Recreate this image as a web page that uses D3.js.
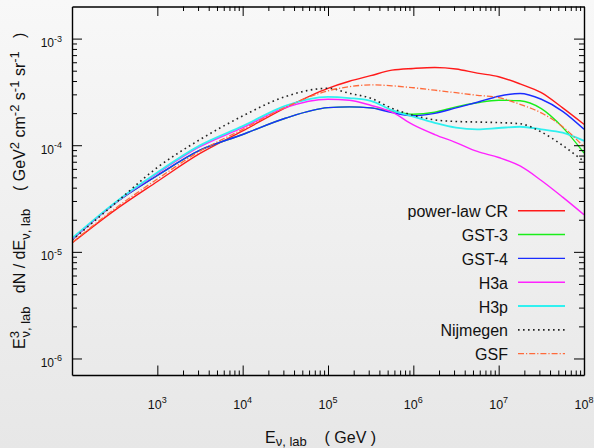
<!DOCTYPE html>
<html>
<head>
<meta charset="utf-8">
<title>Neutrino flux, E^3 dN/dE</title>
<script src="https://d3js.org/d3.v7.min.js"></script>
<style>
  body { margin: 0; padding: 0; }
  svg { display: block; font-family: "Liberation Sans", Arial, sans-serif; }
  text { white-space: pre; fill: #111; }
</style>
</head>
<body>
<div id="chart"></div>
<script>
// neutrino energy in the lab frame (GeV)
var energies = [1e2, 3.16e2, 1e3, 3.16e3, 1e4, 3.16e4, 1e5, 1.78e5, 3.16e5, 5.62e5, 1e6, 1.78e6, 3.16e6, 5.62e6, 1e7, 1.78e7, 3.16e7, 5.62e7, 1e8];

// E^3 dN/dE (GeV^2 cm^-2 s^-1 sr^-1), one list per cosmic-ray model
var powerLawCR = [1.21e-5, 2.45e-5, 4.57e-5, 8.37e-5, 1.36e-4, 2.24e-4, 3.42e-4, 3.98e-4, 4.49e-4, 5.06e-4, 5.25e-4, 5.36e-4, 5.19e-4, 4.74e-4, 4.39e-4, 3.76e-4, 3.11e-4, 2.24e-4, 1.57e-4];
var gst3 = [1.30e-5, 2.84e-5, 5.20e-5, 8.99e-5, 1.26e-4, 1.79e-4, 2.25e-4, 2.29e-4, 2.24e-4, 2.09e-4, 1.95e-4, 2.04e-4, 2.29e-4, 2.50e-4, 2.64e-4, 2.61e-4, 2.20e-4, 1.47e-4, 8.46e-5];
var gst4 = [1.30e-5, 2.84e-5, 5.20e-5, 8.99e-5, 1.26e-4, 1.79e-4, 2.25e-4, 2.29e-4, 2.24e-4, 2.02e-4, 1.89e-4, 1.99e-4, 2.24e-4, 2.53e-4, 2.88e-4, 3.06e-4, 2.70e-4, 2.08e-4, 1.41e-4];
var h3a = [1.31e-5, 2.84e-5, 5.43e-5, 9.68e-5, 1.46e-4, 2.25e-4, 2.70e-4, 2.64e-4, 2.37e-4, 2.04e-4, 1.55e-4, 1.26e-4, 1.06e-4, 8.74e-5, 7.67e-5, 6.39e-5, 4.67e-5, 3.26e-5, 2.23e-5];
var h3p = [1.34e-5, 2.88e-5, 5.55e-5, 9.96e-5, 1.51e-4, 2.34e-4, 2.84e-4, 2.77e-4, 2.61e-4, 2.13e-4, 1.85e-4, 1.62e-4, 1.46e-4, 1.41e-4, 1.45e-4, 1.49e-4, 1.41e-4, 1.31e-4, 1.10e-4];
var nijmegen = [1.29e-5, 2.82e-5, 6.18e-5, 1.13e-4, 1.88e-4, 2.86e-4, 3.42e-4, 3.07e-4, 2.76e-4, 2.22e-4, 1.91e-4, 1.73e-4, 1.67e-4, 1.65e-4, 1.63e-4, 1.59e-4, 1.33e-4, 9.96e-5, 7.04e-5];
var gsf = [1.22e-5, 2.53e-5, 4.82e-5, 8.80e-5, 1.41e-4, 2.27e-4, 3.24e-4, 3.54e-4, 3.68e-4, 3.61e-4, 3.46e-4, 3.28e-4, 3.11e-4, 2.94e-4, 2.80e-4, 2.42e-4, 2.01e-4, 1.49e-4, 9.64e-5];

var seriesNames = ["power-law CR", "GST-3", "GST-4", "H3a", "H3p", "Nijmegen", "GSF"];
var seriesValues = [powerLawCR, gst3, gst4, h3a, h3p, nijmegen, gsf];

// ticks
var xTickValues = [1e3, 1e4, 1e5, 1e6, 1e7, 1e8];
var xTickExponents = ["3", "4", "5", "6", "7", "8"];
var yTickValues = [1e-6, 1e-5, 1e-4, 1e-3];
var yTickExponents = ["-6", "-5", "-4", "-3"];

// line styles
var styles = [
  { color: "#ff1a1a", width: 1.4, dash: null },
  { color: "#1aee1a", width: 1.4, dash: null },
  { color: "#1a2cff", width: 1.4, dash: null },
  { color: "#ff22ff", width: 1.4, dash: null },
  { color: "#30f0f0", width: 1.8, dash: null },
  { color: "#222222", width: 1.6, dash: "1.6,3.4" },
  { color: "#ff6a3a", width: 1.3, dash: "6,2,1.2,2" }
];

var W = 594, H = 448;
var plotL = 72, plotR = 584, plotT = 6.5, plotB = 375;

var svg = d3.select("#chart").append("svg")
  .attr("width", W)
  .attr("height", H);

// background
var defs = svg.append("defs");
var grad = defs.append("linearGradient")
  .attr("id", "bg").attr("x1", 0).attr("y1", 0).attr("x2", 0).attr("y2", 1);
grad.append("stop").attr("offset", "0%").attr("stop-color", "#f8f8f8");
grad.append("stop").attr("offset", "100%").attr("stop-color", "#e7e7e7");
svg.append("rect").attr("width", W).attr("height", H).attr("fill", "url(#bg)");

defs.append("clipPath").attr("id", "clip")
  .append("rect").attr("x", plotL).attr("y", plotT)
  .attr("width", plotR - plotL).attr("height", plotB - plotT);

var x = d3.scaleLog().domain([1e2, 1e8]).range([plotL, plotR]);
var y = d3.scaleLog().domain([7e-7, 2e-3]).range([plotB, plotT]);

// minor ticks
var xMinor = [];
for (var n = 3; n < 8; n++) {
  for (var k = 2; k <= 9; k++) xMinor.push(k * Math.pow(10, n));
}
var yMinor = [];
for (var n = -6; n < -3; n++) {
  for (var k = 2; k <= 9; k++) yMinor.push(k * Math.pow(10, n));
}

function drawAxis(axisFn, pos, values, size, keepDomain) {
  var g = svg.append("g")
    .attr("transform", pos)
    .style("color", "#000")
    .call(axisFn.tickValues(values).tickSize(size).tickSizeOuter(0).tickFormat(""));
  g.selectAll(".tick line").attr("stroke-width", 1);
  if (keepDomain) g.select(".domain").attr("stroke-width", 1.4);
  else g.select(".domain").remove();
}

// curves
var line = d3.line()
  .x(function (d) { return x(d[0]); })
  .y(function (d) { return y(d[1]); })
  .curve(d3.curveMonotoneX);

var plot = svg.append("g").attr("clip-path", "url(#clip)");
seriesValues.forEach(function (vals, i) {
  var pts = energies.map(function (e, j) { return [e, vals[j]]; });
  plot.append("path")
    .datum(pts)
    .attr("d", line)
    .attr("fill", "none")
    .attr("stroke", styles[i].color)
    .attr("stroke-width", styles[i].width)
    .attr("stroke-dasharray", styles[i].dash);
});

drawAxis(d3.axisTop(x), "translate(0," + plotB + ")", xTickValues, 9.5, true);
drawAxis(d3.axisTop(x), "translate(0," + plotB + ")", xMinor, 4.5, false);
drawAxis(d3.axisBottom(x), "translate(0," + plotT + ")", xTickValues, 9.5, true);
drawAxis(d3.axisBottom(x), "translate(0," + plotT + ")", xMinor, 4.5, false);
drawAxis(d3.axisRight(y), "translate(" + plotL + ",0)", yTickValues, 10, true);
drawAxis(d3.axisRight(y), "translate(" + plotL + ",0)", yMinor, 5, false);
drawAxis(d3.axisLeft(y), "translate(" + plotR + ",0)", yTickValues, 10, true);
drawAxis(d3.axisLeft(y), "translate(" + plotR + ",0)", yMinor, 5, false);

// tick labels with superscripts
xTickValues.forEach(function (v, i) {
  var t = svg.append("text")
    .attr("x", x(v)).attr("y", 408.5)
    .attr("text-anchor", "middle")
    .attr("font-size", 12.5);
  t.append("tspan").text("10");
  t.append("tspan").attr("dy", -5.5).attr("font-size", 9).text(xTickExponents[i]);
});
yTickValues.forEach(function (v, i) {
  var t = svg.append("text")
    .attr("x", 62).attr("y", y(v) + 8.5)
    .attr("text-anchor", "end")
    .attr("font-size", 12);
  t.append("tspan").text("10");
  t.append("tspan").attr("dy", -5.5).attr("font-size", 9).text(yTickExponents[i]);
});

// rich text helper: parts are [text, "sup"|"sub"|null, dx]
function rich(t, parts, base, small, subOff) {
  var cur = 0;
  parts.forEach(function (p) {
    var off = p[1] === "sup" ? -6.5 : p[1] === "sub" ? subOff : 0;
    var ts = t.append("tspan")
      .attr("dy", off - cur)
      .attr("font-size", p[1] ? small : base)
      .text(p[0]);
    if (p[2]) ts.attr("dx", p[2]);
    cur = off;
  });
}

// x title
var xt = svg.append("text")
  .attr("x", 265).attr("y", 443)
  .attr("font-size", 16);
rich(xt, [["E"], ["\u03bd, lab", "sub"], ["    ( GeV )"]], 16, 13, 3);

// y title
var yt = svg.append("text")
  .attr("transform", "translate(25,349) rotate(-90)")
  .attr("font-size", 16);
rich(yt, [
  ["E"], ["3", "sup"], ["\u03bd, lab", "sub", -6.5], ["   dN / dE"], ["\u03bd, lab", "sub"],
  ["    ( GeV"], ["2", "sup"], [" cm"], ["-2", "sup"], [" s"], ["-1", "sup"],
  [" sr"], ["-1", "sup"], ["   )"]
], 16, 13, 4.5);

// legend
var legend = svg.append("g");
seriesNames.forEach(function (name, i) {
  var ly = 210.7 + i * 23.83;
  legend.append("text")
    .attr("x", 508).attr("y", ly + 6.5)
    .attr("text-anchor", "end")
    .attr("font-size", 16)
    .text(name);
  legend.append("line")
    .attr("x1", 518).attr("x2", 565)
    .attr("y1", ly).attr("y2", ly)
    .attr("stroke", styles[i].color)
    .attr("stroke-width", styles[i].width)
    .attr("stroke-dasharray", styles[i].dash);
});
</script>
</body>
</html>
